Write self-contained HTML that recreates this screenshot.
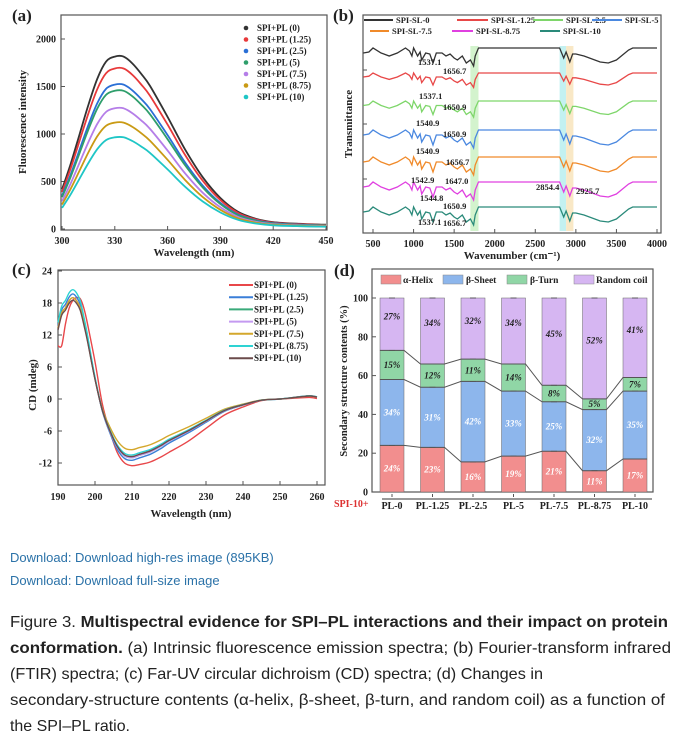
<!DOCTYPE html>
<html><head><meta charset="utf-8"><style>
body{margin:0;background:#fff;width:681px;height:739px;overflow:hidden}
svg{display:block}
.t{font-family:"Liberation Serif",serif;font-weight:bold;fill:#222}
.c{font-family:"Liberation Sans",sans-serif}
</style></head><body>
<svg id="s" width="681" height="739" viewBox="0 0 681 739">
<g id="pa"></g>
<g id="pb"></g>
<g id="pc"></g>
<g id="pd"></g>
<g class="c" font-size="13" fill="#2b72a8">
<text x="10" y="562">Download: Download high-res image (895KB)</text>
<text x="10" y="585">Download: Download full-size image</text>
</g>
<g class="c" font-size="16" fill="#222">
<text x="10" y="627" textLength="658" lengthAdjust="spacingAndGlyphs">Figure 3. <tspan font-weight="bold">Multispectral evidence for SPI–PL interactions and their impact on protein</tspan></text>
<text x="10" y="653" textLength="661" lengthAdjust="spacingAndGlyphs"><tspan font-weight="bold">conformation.</tspan> (a) Intrinsic fluorescence emission spectra; (b) Fourier-transform infrared</text>
<text x="10" y="679" textLength="533" lengthAdjust="spacingAndGlyphs">(FTIR) spectra; (c) Far-UV circular dichroism (CD) spectra; (d) Changes in</text>
<text x="10" y="705" textLength="655" lengthAdjust="spacingAndGlyphs">secondary-structure contents (α-helix, β-sheet, β-turn, and random coil) as a function of</text>
<text x="10" y="731" textLength="120" lengthAdjust="spacingAndGlyphs">the SPI–PL ratio.</text>
</g>
</svg>
<script>
// ---------- data ----------
const aWave=[300,305,310,315,320,325,330,335,340,345,350,360,370,380,390,400,410,420,435,450];
const aShape=[0.23,0.38,0.55,0.72,0.87,0.97,1.0,1.0,0.96,0.9,0.83,0.65,0.46,0.30,0.18,0.10,0.06,0.04,0.03,0.025];
const aPeak=[1815,1690,1520,1455,1270,1120,965];
const aLabels=["SPI+PL (0)","SPI+PL (1.25)","SPI+PL (2.5)","SPI+PL (5)","SPI+PL (7.5)","SPI+PL (8.75)","SPI+PL (10)"];
const aXTicks=[300,330,360,390,420,450];
const aYTicks=[0,500,1000,1500,2000];

const bWave=[380,450,500,600,700,800,900,950,980,1000,1050,1080,1100,1150,1200,1240,1280,1350,1400,1450,1500,1540,1600,1650,1700,1740,1760,1800,2800,2850,2880,2925,2960,3000,3100,3300,3400,3500,3650,3700,4000];
const bShape=[5,4,0,5,8,5,0,3,8,0,8,4,12,5,6,15,5,5,8,6,10,12,8,15,12,18,8,0,0,10,4,14,6,6,8,14,15,12,2,0,0];
const bOffset=[48,73,101,130,157,182,207];
const bDepth=[1,0.8,0.9,1,1,1,1];
const bLabels=["SPI-SL-0","SPI-SL-1.25","SPI-SL-2.5","SPI-SL-5","SPI-SL-7.5","SPI-SL-8.75","SPI-SL-10"];
const bXTicks=[500,1000,1500,2000,2500,3000,3500,4000];

const cWave=[190,191,192,193,194,195,196,197,198,200,202,204,206,208,210,212,215,218,220,225,230,235,240,245,250,255,258,260];
const cRed=[10,10,14,17,18.5,19,18.8,17,14,7,-1,-6,-10,-12,-12.5,-12.3,-11.8,-10.8,-10,-8,-5.5,-3,-1.5,-0.3,0,0.2,0.3,0.1];
const cShape=[0.7,0.85,0.9,0.97,1.0,0.97,0.9,0.75,0.58,0.2,-0.2,-0.55,-0.82,-0.97,-1.0,-0.96,-0.9,-0.8,-0.72,-0.56,-0.38,-0.2,-0.1,-0.02,0,0.02,0.03,0.02];
const cPeak=[19,19.7,19,19,19,20.5,18.5];
const cTrough=[12.5,11.5,11,11,9.5,10.5,10.8];
const cLabels=aLabels;
const cXTicks=[190,200,210,220,230,240,250,260];
const cYTicks=[-12,-6,0,6,12,18,24];

const dCats=["PL-0","PL-1.25","PL-2.5","PL-5","PL-7.5","PL-8.75","PL-10"];
const dHelix=[24,23,16,19,21,11,17];
const dHelixTop=[24,23,15.5,18.5,21,11,17];
const dSheetTop=[58,54,57,52,46.5,42.5,52];
const dTurnTop=[73,66,68.5,66,55,48,59];
const dSheetPct=[34,31,42,33,25,32,35];
const dTurnPct=[15,12,11,14,8,5,7];
const dCoilPct=[27,34,32,34,45,52,41];
const dYTicks=[0,20,40,60,80,100];
const dSeries=["α-Helix","β-Sheet","β-Turn","Random coil"];

// ---------- helpers ----------
const NS="http://www.w3.org/2000/svg";
function el(p,tag,at,txt){const e=document.createElementNS(NS,tag);for(const k in at)e.setAttribute(k,at[k]);if(txt!==undefined)e.textContent=txt;p.appendChild(e);return e;}
function lin(d0,d1,r0,r1){return v=>r0+(v-d0)/(d1-d0)*(r1-r0);}
function box(g,x0,y0,x1,y1){const r=el(g,'rect',{x:x0,y:y0,width:x1-x0,height:y1-y0,fill:'none',stroke:'#555','stroke-width':1.2});}
function path(pts){return pts.map((p,i)=>(i?'L':'M')+p[0].toFixed(1)+','+p[1].toFixed(1)).join('');}
function smooth(pts){let d='M'+pts[0][0]+','+pts[0][1];for(let i=0;i<pts.length-1;i++){const p0=pts[i-1]||pts[i],p1=pts[i],p2=pts[i+1],p3=pts[i+2]||p2;d+='C'+(p1[0]+(p2[0]-p0[0])/6).toFixed(1)+','+(p1[1]+(p2[1]-p0[1])/6).toFixed(1)+' '+(p2[0]-(p3[0]-p1[0])/6).toFixed(1)+','+(p2[1]-(p3[1]-p1[1])/6).toFixed(1)+' '+p2[0].toFixed(1)+','+p2[1].toFixed(1);}return d;}

// ---------- panel a ----------
(function(){
const g=document.getElementById('pa');
const X=lin(300,450,62,326),Y=lin(0,2000,229,39);
const col=["#333","#e8393a","#2a6fd6","#2e9e6b","#b57ee8","#c99a14","#1fc6c6"];
box(g,61,15,327,230);
aXTicks.forEach(v=>{const t=el(g,'line',{x1:X(v),x2:X(v),y1:230,y2:226,stroke:'#555'});
 const l=el(g,'text',{x:X(v),y:244,'text-anchor':'middle','font-size':10,class:'t'},v);});
aYTicks.forEach(v=>{el(g,'line',{x1:61,x2:65,y1:Y(v),y2:Y(v),stroke:'#555'});
 const l=el(g,'text',{x:56,y:Y(v)+3.5,'text-anchor':'end','font-size':10,class:'t'},v);});
aPeak.forEach((pk,i)=>{const pts=aWave.map((w,j)=>[X(w),Y(pk*aShape[j])]);
 const p=el(g,'path',{d:smooth(pts),fill:'none',stroke:col[i],'stroke-width':1.8});
 const ly=31+i*11.5;const lg=el(g,'g',{});
 el(lg,'circle',{cx:246,cy:ly-3,r:2.3,fill:col[i]});
 el(lg,'text',{x:257,y:ly,'font-size':9,class:'t'},aLabels[i]);});
const t1=el(g,'text',{x:194,y:256,'text-anchor':'middle','font-size':11,class:'t'},'Wavelength (nm)');
const t2=el(g,'text',{transform:'translate(26,122) rotate(-90)','text-anchor':'middle','font-size':11,class:'t'},'Fluorescence intensity');
const t3=el(g,'text',{x:12,y:21,'font-size':17,class:'t'},'(a)');
})();

// ---------- panel b ----------
(function(){
const g=document.getElementById('pb');
const X=lin(500,4000,373,657);
const col=["#333","#e84848","#7ed66a","#4a88e0","#f08a2a","#e040e0","#2a8a7a"];
el(g,'rect',{x:X(1700),y:46,width:X(1800)-X(1700),height:185,fill:'#c8f0c0',opacity:0.8});
el(g,'rect',{x:X(2800),y:46,width:X(2880)-X(2800),height:185,fill:'#bdefef',opacity:0.9});
el(g,'rect',{x:X(2880),y:46,width:X(2970)-X(2880),height:185,fill:'#f8e6c0',opacity:0.9});
box(g,363,15,661,233);
bXTicks.forEach(v=>{el(g,'line',{x1:X(v),x2:X(v),y1:233,y2:229,stroke:'#555'});
 const l=el(g,'text',{x:X(v),y:247,'text-anchor':'middle','font-size':10,class:'t'},v);});
[70,124,179].forEach(y=>el(g,'line',{x1:363,x2:367,y1:y,y2:y,stroke:'#555'}));
bOffset.forEach((o,i)=>{const pts=bWave.map((w,j)=>[X(w),o+bShape[j]*bDepth[i]]);
 const p=el(g,'path',{d:path(pts),fill:'none',stroke:col[i],'stroke-width':1.3});});
const lx=[[364,396],[457,491],[533,566],[592,625],[370,392],[452,476],[540,563]];
bLabels.forEach((s,i)=>{const y=i<4?23:34;const lg=el(g,'g',{});
 el(lg,'line',{x1:lx[i][0],x2:lx[i][1]-3,y1:y-3,y2:y-3,stroke:col[i],'stroke-width':2});
 el(lg,'text',{x:lx[i][1],y:y,'font-size':8.5,class:'t'},s);});
const ann=[["1537.1",418,65],["1656.7",443,74],["1537.1",419,99],["1650.9",443,110],["1540.9",416,126],["1650.9",443,137],["1540.9",416,154],["1656.7",446,165],["1542.9",411,183],["1647.0",445,184],["1544.8",420,201],["1650.9",443,209],["1537.1",418,225],["1656.7",443,226],["2854.4",536,190],["2925.7",576,194]];
ann.forEach(a=>{const t=el(g,'text',{x:a[1],y:a[2],'font-size':8.5,class:'t'},a[0]);});
const t1=el(g,'text',{x:512,y:259,'text-anchor':'middle','font-size':11,class:'t'},'Wavenumber (cm⁻¹)');
const t2=el(g,'text',{transform:'translate(352,124) rotate(-90)','text-anchor':'middle','font-size':11,class:'t'},'Transmittance');
const t3=el(g,'text',{x:333,y:21,'font-size':17,class:'t'},'(b)');
})();

// ---------- panel c ----------
(function(){
const g=document.getElementById('pc');
const X=lin(190,260,58,317),Y=lin(-12,24,463,271);
const col=["#e8474a","#3a7fd8","#3aaa7a","#c49af0","#d4a72c","#2ed3d3","#6b4b4b"];
box(g,58,270,325,485);
cXTicks.forEach(v=>{el(g,'line',{x1:X(v),x2:X(v),y1:485,y2:481,stroke:'#555'});
 const l=el(g,'text',{x:X(v),y:500,'text-anchor':'middle','font-size':10,class:'t'},v);});
cYTicks.forEach(v=>{el(g,'line',{x1:58,x2:62,y1:Y(v),y2:Y(v),stroke:'#555'});
 const l=el(g,'text',{x:52,y:Y(v)+3.5,'text-anchor':'end','font-size':10,class:'t'},v);});
cPeak.forEach((pk,i)=>{const vals=i===0?cRed:cShape.map(s=>s>0?s*pk:s*cTrough[i]);
 const pts=cWave.map((w,j)=>[X(w),Y(vals[j])]);
 const p=el(g,'path',{d:smooth(pts),fill:'none',stroke:col[i],'stroke-width':1.4});
 const ly=288+i*12.2;const lg=el(g,'g',{});
 el(lg,'line',{x1:229,x2:253,y1:ly-3,y2:ly-3,stroke:col[i],'stroke-width':2});
 el(lg,'text',{x:254,y:ly,'font-size':9,class:'t'},cLabels[i]);});
const t1=el(g,'text',{x:191,y:517,'text-anchor':'middle','font-size':11,class:'t'},'Wavelength (nm)');
const t2=el(g,'text',{transform:'translate(36,385) rotate(-90)','text-anchor':'middle','font-size':11,class:'t'},'CD (mdeg)');
const t3=el(g,'text',{x:12,y:275,'font-size':17,class:'t'},'(c)');
})();

// ---------- panel d ----------
(function(){
const g=document.getElementById('pd');
const Y=lin(0,100,492,298);const X=i=>392+i*40.5;const bw=24;
const col=["#f28e8e","#8db6ec","#90d6a6","#d6b6f2"];
box(g,372,269,653,492);
dYTicks.forEach(v=>{el(g,'line',{x1:372,x2:376,y1:Y(v),y2:Y(v),stroke:'#555'});
 const l=el(g,'text',{x:368,y:Y(v)+3.5,'text-anchor':'end','font-size':10,class:'t'},v);});
const segs=[[i=>0,i=>dHelixTop[i]],[i=>dHelixTop[i],i=>dSheetTop[i]],[i=>dSheetTop[i],i=>dTurnTop[i]],[i=>dTurnTop[i],i=>100]];
dCats.forEach((c,i)=>{segs.forEach((s,k)=>{const y0=Y(s[1](i)),y1=Y(s[0](i));
  const r=el(g,'rect',{x:X(i)-bw/2,y:y0,width:bw,height:y1-y0,fill:col[k],stroke:'#666','stroke-width':0.5});
  });
 const pl=[[dHelix[i],(dHelixTop[i])/2,'#fff'],[dSheetPct[i],(dHelixTop[i]+dSheetTop[i])/2,'#fff'],[dTurnPct[i],(dSheetTop[i]+dTurnTop[i])/2,'#222'],[dCoilPct[i],(dTurnTop[i]+100)/2+4,'#222']];
 pl.forEach(p=>{const t=el(g,'text',{x:X(i),y:Y(p[1])+3,'text-anchor':'middle','font-size':9,'font-style':'italic',class:'t',style:'fill:'+p[2]},p[0]+'%');});
 [dHelixTop[i],dSheetTop[i],dTurnTop[i],100].forEach(v=>el(g,'line',{x1:X(i)-3,x2:X(i)+3,y1:Y(v),y2:Y(v),stroke:'#444','stroke-width':0.8}));
 el(g,'line',{x1:X(i),x2:X(i),y1:494,y2:497,stroke:'#555'});
 const l=el(g,'text',{x:X(i),y:509,'text-anchor':'middle','font-size':10,class:'t'},c);});
[dHelixTop,dSheetTop,dTurnTop].forEach(arr=>{const pts=[];arr.forEach((v,i)=>{pts.push([X(i)-bw/2,Y(v)]);pts.push([X(i)+bw/2,Y(v)]);});
 const p=el(g,'path',{d:path(pts),fill:'none',stroke:'#555','stroke-width':1});});
el(g,'line',{x1:382,x2:652,y1:499,y2:499,stroke:'#333','stroke-width':1});
const sp=el(g,'text',{x:334,y:507,'font-size':10,class:'t',style:'fill:#d33'},'SPI-10+');
const lxs=[[381,403],[443,466],[507,530],[574,596]];
dSeries.forEach((s,k)=>{const lg=el(g,'g',{});
 el(lg,'rect',{x:lxs[k][0],y:275,width:20,height:9,fill:col[k],stroke:'#888','stroke-width':0.5});
 el(lg,'text',{x:lxs[k][1],y:283,'font-size':9.5,class:'t'},s);});
const t2=el(g,'text',{transform:'translate(347,381) rotate(-90)','text-anchor':'middle','font-size':10.5,class:'t'},'Secondary structure contents (%)');
const t3=el(g,'text',{x:334,y:276,'font-size':17,class:'t'},'(d)');
})();
</script>
</body></html>
